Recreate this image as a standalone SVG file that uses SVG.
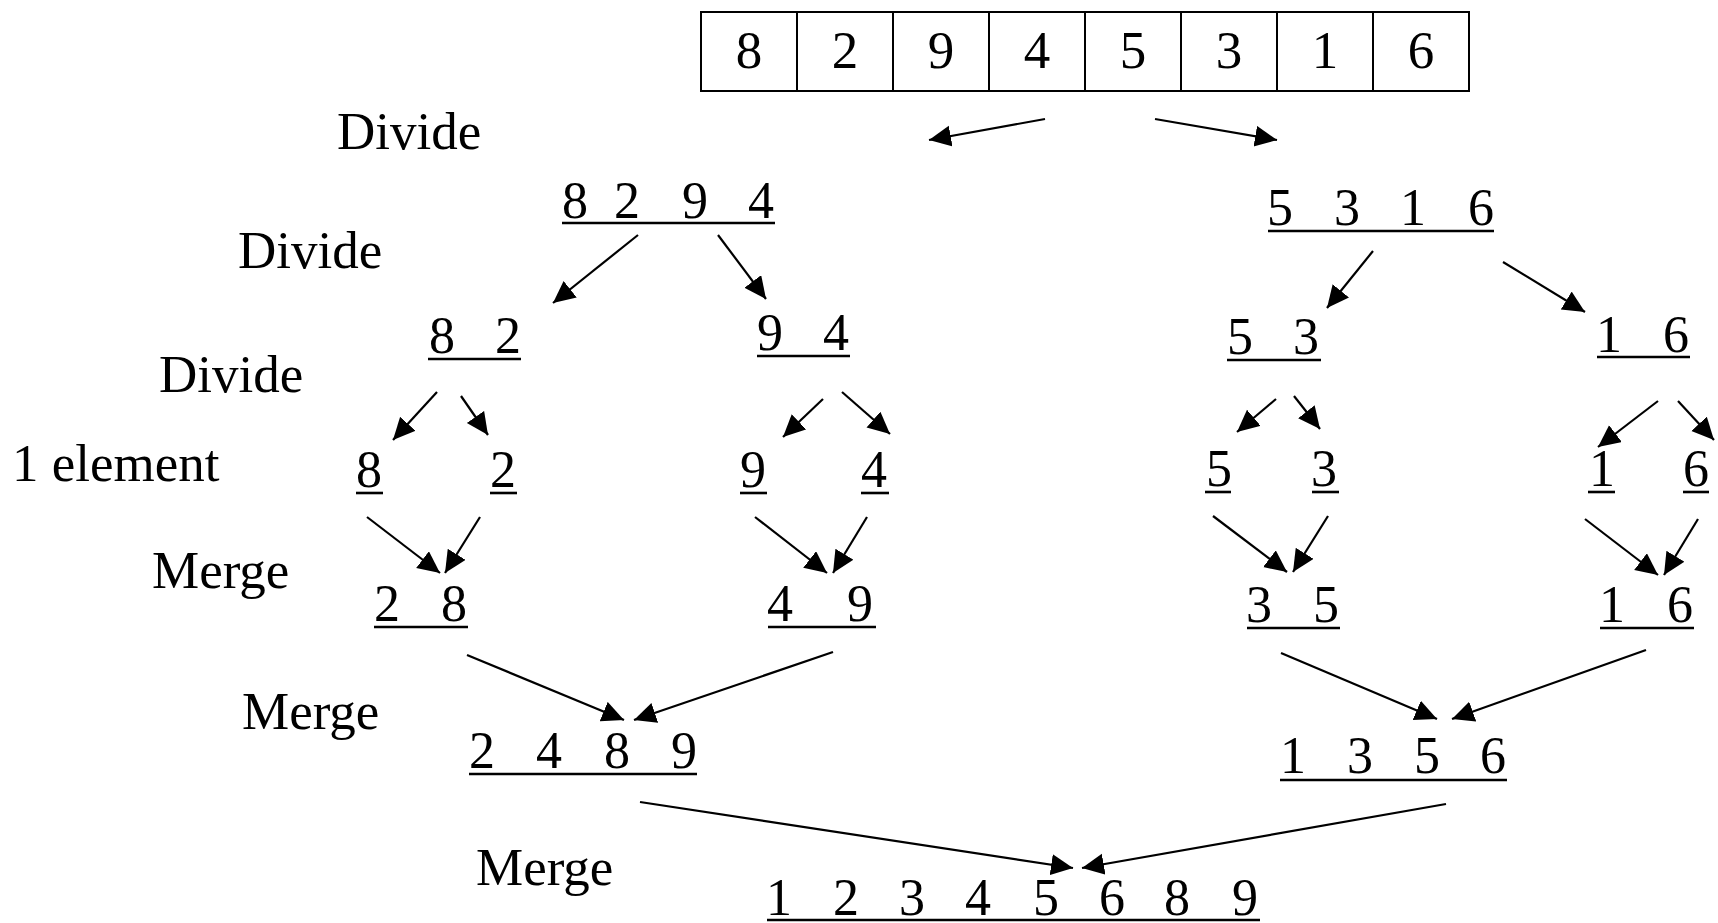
<svg xmlns="http://www.w3.org/2000/svg" width="1718" height="923" viewBox="0 0 1718 923">
<style>
.num{font-family:"Liberation Serif","Times New Roman",serif;font-size:52px;text-anchor:middle;fill:#000}
.bnum{font-family:"Liberation Serif","Times New Roman",serif;font-size:53px;text-anchor:middle;fill:#000}
.lbl{font-family:"Liberation Serif","Times New Roman",serif;font-size:53px;fill:#000}
.ul{stroke:#000;stroke-width:2.6}
.box{fill:#fff;stroke:#000;stroke-width:2}
.arr{stroke:#000;stroke-width:2.2;fill:none;marker-end:url(#ah)}
</style>
<defs>
<marker id="ah" markerUnits="userSpaceOnUse" markerWidth="24" markerHeight="22" refX="22" refY="10.5" orient="auto">
<path d="M0,0 L22,10.5 L0,21 z" fill="#000"/>
</marker>
</defs>
<rect width="1718" height="923" fill="#fff"/>

<g id="labels">
<text class="lbl" x="337" y="149">Divide</text>
<text class="lbl" x="238" y="268">Divide</text>
<text class="lbl" x="159" y="392">Divide</text>
<text class="lbl" x="12" y="481">1 element</text>
<text class="lbl" x="152" y="588">Merge</text>
<text class="lbl" x="242" y="729">Merge</text>
<text class="lbl" x="476" y="885">Merge</text>
</g>

<g id="array">
<rect class="box" x="701" y="12" width="96" height="79"/>
<rect class="box" x="797" y="12" width="96" height="79"/>
<rect class="box" x="893" y="12" width="96" height="79"/>
<rect class="box" x="989" y="12" width="96" height="79"/>
<rect class="box" x="1085" y="12" width="96" height="79"/>
<rect class="box" x="1181" y="12" width="96" height="79"/>
<rect class="box" x="1277" y="12" width="96" height="79"/>
<rect class="box" x="1373" y="12" width="96" height="79"/>
<text class="bnum" x="749" y="68">8</text>
<text class="bnum" x="845" y="68">2</text>
<text class="bnum" x="941" y="68">9</text>
<text class="bnum" x="1037" y="68">4</text>
<text class="bnum" x="1133" y="68">5</text>
<text class="bnum" x="1229" y="68">3</text>
<text class="bnum" x="1325" y="68">1</text>
<text class="bnum" x="1421" y="68">6</text>
</g>

<g id="n8294">
<text class="num" y="218"><tspan x="575">8</tspan><tspan x="627">2</tspan><tspan x="695">9</tspan><tspan x="761">4</tspan></text>
<line class="ul" x1="562" y1="223" x2="775" y2="223"/>
</g>
<g id="n5316">
<text class="num" y="225"><tspan x="1280">5</tspan><tspan x="1347">3</tspan><tspan x="1413">1</tspan><tspan x="1481">6</tspan></text>
<line class="ul" x1="1268" y1="231" x2="1494" y2="231"/>
</g>

<g id="n82">
<text class="num" y="353"><tspan x="442">8</tspan><tspan x="508">2</tspan></text>
<line class="ul" x1="428" y1="359" x2="521" y2="359"/>
</g>
<g id="n94">
<text class="num" y="350"><tspan x="770">9</tspan><tspan x="836">4</tspan></text>
<line class="ul" x1="757" y1="356" x2="850" y2="356"/>
</g>
<g id="n53">
<text class="num" y="354"><tspan x="1240">5</tspan><tspan x="1306">3</tspan></text>
<line class="ul" x1="1227" y1="360" x2="1321" y2="360"/>
</g>
<g id="n16a">
<text class="num" y="352"><tspan x="1609">1</tspan><tspan x="1676">6</tspan></text>
<line class="ul" x1="1597" y1="357" x2="1690" y2="357"/>
</g>

<g id="e8">
<text class="num" x="369" y="487">8</text>
<line class="ul" x1="356" y1="493" x2="383" y2="493"/>
</g>
<g id="e2">
<text class="num" x="503" y="487">2</text>
<line class="ul" x1="490" y1="493" x2="517" y2="493"/>
</g>
<g id="e9">
<text class="num" x="753" y="487">9</text>
<line class="ul" x1="740" y1="493" x2="767" y2="493"/>
</g>
<g id="e4">
<text class="num" x="874" y="487">4</text>
<line class="ul" x1="861" y1="493" x2="889" y2="493"/>
</g>
<g id="e5">
<text class="num" x="1219" y="486">5</text>
<line class="ul" x1="1205" y1="492" x2="1231" y2="492"/>
</g>
<g id="e3">
<text class="num" x="1324" y="486">3</text>
<line class="ul" x1="1312" y1="492" x2="1339" y2="492"/>
</g>
<g id="e1">
<text class="num" x="1602" y="486">1</text>
<line class="ul" x1="1588" y1="492" x2="1615" y2="492"/>
</g>
<g id="e6">
<text class="num" x="1696" y="486">6</text>
<line class="ul" x1="1683" y1="492" x2="1709" y2="492"/>
</g>

<g id="m28">
<text class="num" y="621"><tspan x="387">2</tspan><tspan x="454">8</tspan></text>
<line class="ul" x1="374" y1="627" x2="468" y2="627"/>
</g>
<g id="m49">
<text class="num" y="621"><tspan x="780">4</tspan><tspan x="860">9</tspan></text>
<line class="ul" x1="768" y1="627" x2="876" y2="627"/>
</g>
<g id="m35">
<text class="num" y="622"><tspan x="1259">3</tspan><tspan x="1326">5</tspan></text>
<line class="ul" x1="1247" y1="628" x2="1340" y2="628"/>
</g>
<g id="m16">
<text class="num" y="622"><tspan x="1612">1</tspan><tspan x="1680">6</tspan></text>
<line class="ul" x1="1600" y1="628" x2="1694" y2="628"/>
</g>

<g id="m2489">
<text class="num" y="768"><tspan x="482">2</tspan><tspan x="549">4</tspan><tspan x="617">8</tspan><tspan x="684">9</tspan></text>
<line class="ul" x1="469" y1="774" x2="697" y2="774"/>
</g>
<g id="m1356">
<text class="num" y="773"><tspan x="1293">1</tspan><tspan x="1360">3</tspan><tspan x="1427">5</tspan><tspan x="1493">6</tspan></text>
<line class="ul" x1="1280" y1="780" x2="1507" y2="780"/>
</g>

<g id="final">
<text class="num" y="915"><tspan x="779">1</tspan><tspan x="846">2</tspan><tspan x="912">3</tspan><tspan x="978">4</tspan><tspan x="1046">5</tspan><tspan x="1112">6</tspan><tspan x="1177">8</tspan><tspan x="1245">9</tspan></text>
<line class="ul" x1="767" y1="920" x2="1260" y2="920"/>
</g>

<g id="connectors">
<line class="arr" x1="1045" y1="119" x2="929" y2="140"/>
<line class="arr" x1="1155" y1="119" x2="1277" y2="140"/>
<line class="arr" x1="638" y1="235" x2="553" y2="303"/>
<line class="arr" x1="718" y1="235" x2="766" y2="299"/>
<line class="arr" x1="1373" y1="251" x2="1327" y2="308"/>
<line class="arr" x1="1503" y1="262" x2="1585" y2="312"/>
<line class="arr" x1="437" y1="392" x2="393" y2="440"/>
<line class="arr" x1="461" y1="396" x2="488" y2="435"/>
<line class="arr" x1="823" y1="399" x2="783" y2="437"/>
<line class="arr" x1="842" y1="392" x2="890" y2="434"/>
<line class="arr" x1="1276" y1="399" x2="1237" y2="432"/>
<line class="arr" x1="1294" y1="396" x2="1320" y2="429"/>
<line class="arr" x1="1658" y1="401" x2="1598" y2="447"/>
<line class="arr" x1="1678" y1="401" x2="1714" y2="440"/>
<line class="arr" x1="367" y1="517" x2="440" y2="573"/>
<line class="arr" x1="480" y1="517" x2="445" y2="573"/>
<line class="arr" x1="755" y1="517" x2="827" y2="573"/>
<line class="arr" x1="867" y1="517" x2="833" y2="573"/>
<line class="arr" x1="1213" y1="516" x2="1287" y2="572"/>
<line class="arr" x1="1328" y1="516" x2="1293" y2="572"/>
<line class="arr" x1="1585" y1="519" x2="1658" y2="575"/>
<line class="arr" x1="1698" y1="519" x2="1664" y2="575"/>
<line class="arr" x1="467" y1="655" x2="624" y2="720"/>
<line class="arr" x1="833" y1="652" x2="634" y2="720"/>
<line class="arr" x1="1281" y1="653" x2="1437" y2="719"/>
<line class="arr" x1="1646" y1="650" x2="1452" y2="719"/>
<line class="arr" x1="640" y1="802" x2="1073" y2="868"/>
<line class="arr" x1="1446" y1="804" x2="1082" y2="868"/>
</g>
</svg>
